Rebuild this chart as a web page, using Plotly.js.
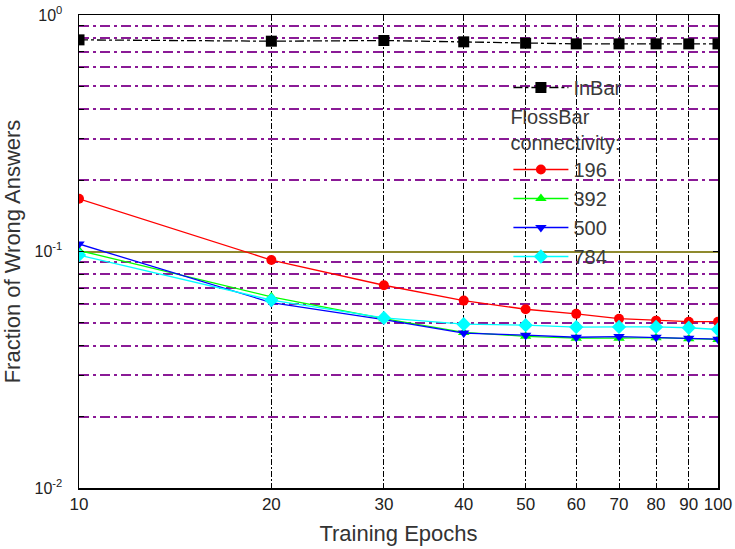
<!DOCTYPE html>
<html>
<head>
<meta charset="utf-8">
<script src="https://cdn.plot.ly/plotly-3.0.1.min.js"></script>
<style>html,body{margin:0;padding:0;background:#fff}#chart{width:735px;height:549px}</style>
</head>
<body>
<div id="chart"></div>
<script>
const epochs = [10, 20, 30, 40, 50, 60, 70, 80, 90, 100];
const inBar = [0.785, 0.775, 0.78, 0.77, 0.76, 0.755, 0.755, 0.755, 0.755, 0.755];
const conn196 = [0.167, 0.092, 0.072, 0.062, 0.057, 0.0545, 0.052, 0.051, 0.0505, 0.0505];
const conn392 = [0.101, 0.0643, 0.052, 0.0455, 0.0438, 0.0430, 0.0430, 0.0432, 0.0428, 0.0425];
const conn500 = [0.1076, 0.0608, 0.0515, 0.0452, 0.0443, 0.0434, 0.0437, 0.0434, 0.0430, 0.0426];
const conn784 = [0.0966, 0.0623, 0.0524, 0.0493, 0.0488, 0.0479, 0.048, 0.048, 0.0476, 0.0468];
const xTickVals = [10, 20, 30, 40, 50, 60, 70, 80, 90, 100];
const xTickText = ['10', '20', '30', '40', '50', '60', '70', '80', '90', '100'];
const yTickVals = [0.01, 0.1, 1];
const yTickText = ['10<sup>-2</sup>', '10<sup>-1</sup>', '10<sup>0</sup>'];
const yMinorVals = [0.02, 0.03, 0.04, 0.05, 0.06, 0.07, 0.08, 0.09, 0.2, 0.3, 0.4, 0.5, 0.6, 0.7, 0.8, 0.9];

const font = "'Liberation Sans', Arial, sans-serif";

function series(name, y, color, symbol, size, legend, group, dash) {
  return {
    x: epochs, y: y, name: name, type: 'scatter', mode: 'lines+markers',
    line: {color: color, width: 1.3, dash: dash || 'solid'},
    marker: {color: color, symbol: symbol, size: size},
    legend: legend, legendgroup: group
  };
}

const traces = [
  // empty helper trace that only anchors the minor-grid overlay axis
  {x: [null], y: [null], yaxis: 'y2', type: 'scatter', mode: 'markers', showlegend: false, hoverinfo: 'skip'},
  series('InBar', inBar, '#000000', 'square', 11, 'legend', 'g0', '9px,3px,3px,3px'),
  series('196', conn196, '#ff0000', 'circle', 10, 'legend2', 'g1'),
  series('392', conn392, '#00ff00', 'triangle-up', 10, 'legend2', 'g2'),
  series('500', conn500, '#0000ff', 'triangle-down', 10, 'legend2', 'g3'),
  series('784', conn784, '#00ffff', 'diamond', 11, 'legend2', 'g4')
];

const legendBase = {
  bgcolor: 'rgba(0,0,0,0)', borderwidth: 0,
  font: {family: font, size: 20, color: '#3a3a3a'},
  xanchor: 'left', yanchor: 'top', itemwidth: 55,
  traceorder: 'grouped', tracegroupgap: 0
};

const layout = {
  width: 735, height: 549,
  margin: {l: 79, r: 17, t: 15, b: 61},
  paper_bgcolor: '#fff', plot_bgcolor: '#fff',
  showlegend: true,
  xaxis: {
    type: 'log', range: [1, 2],
    tickvals: xTickVals, ticktext: xTickText,
    tickfont: {family: font, size: 17, color: '#222'},
    showline: true, linecolor: '#000', linewidth: 1.5, mirror: 'ticks',
    ticks: 'inside', ticklen: 5, tickcolor: '#000',
    showgrid: true, gridcolor: '#000', gridwidth: 1, griddash: '6px,2px,2px,2px',
    zeroline: false,
    title: {text: 'Training Epochs', font: {family: font, size: 22, color: '#333'}, standoff: 12}
  },
  yaxis: {
    type: 'log', range: [-2, 0],
    tickvals: yTickVals, ticktext: yTickText,
    tickfont: {family: font, size: 16, color: '#222'},
    ticklabelstandoff: 12,
    showline: true, linecolor: '#000', linewidth: 1.5, mirror: 'ticks',
    ticks: 'inside', ticklen: 5, tickcolor: '#000',
    showgrid: true, gridcolor: '#8f8a2e', gridwidth: 2,
    zeroline: false,
    title: {text: 'Fraction of Wrong Answers', font: {family: font, size: 22, color: '#333'}, standoff: 10}
  },
  yaxis2: {
    type: 'log', range: [-2, 0], overlaying: 'y', side: 'left', anchor: 'x',
    tickmode: 'array', tickvals: yMinorVals, showticklabels: false,
    ticks: 'inside', ticklen: 5, tickcolor: '#000',
    showline: false, zeroline: false,
    showgrid: true, gridcolor: '#8a1a96', gridwidth: 2, griddash: '10px,4px,3px,4px'
  },
  legend: Object.assign({}, legendBase, {x: 0.672, y: 0.888}),
  legend2: Object.assign({}, legendBase, {
    x: 0.672, y: 0.8245,
    title: {text: 'FlossBar<br>connectivity:', font: {family: font, size: 20, color: '#3a3a3a'}, side: 'top'}
  })
};

Plotly.newPlot('chart', traces, layout, {staticPlot: true});
</script>
</body>
</html>
